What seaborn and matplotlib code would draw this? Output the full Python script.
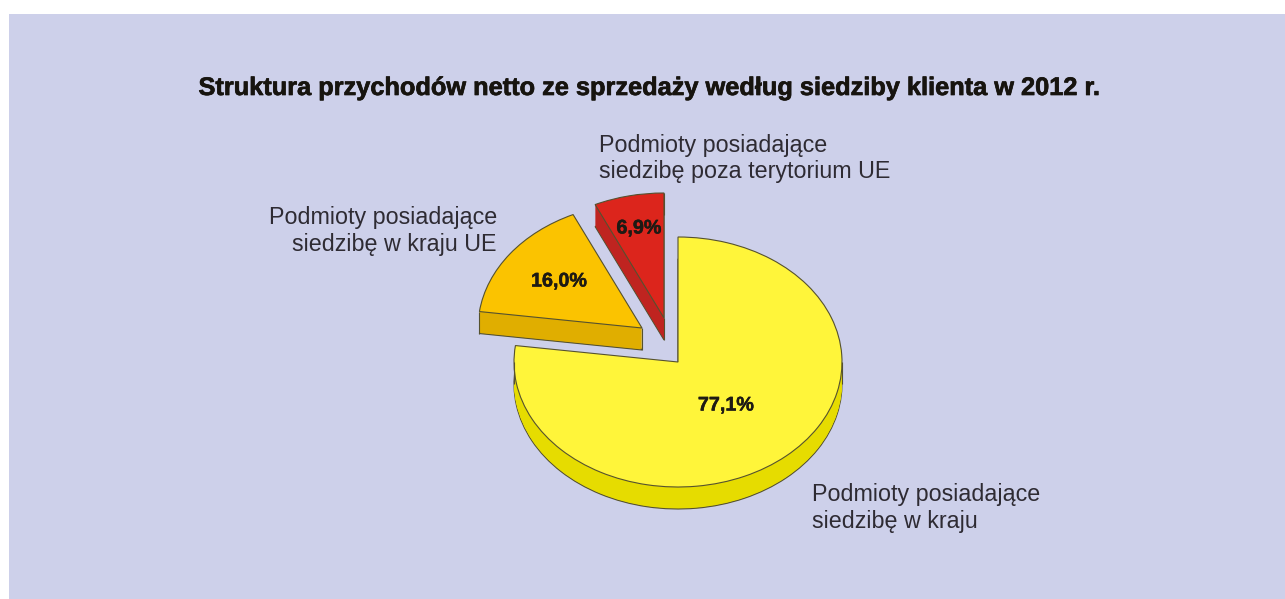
import math

import matplotlib
matplotlib.use("Agg")
import matplotlib.pyplot as plt
import matplotlib.patheffects as pe
from matplotlib.patches import Rectangle
import seaborn as sns

W, H = 1285, 599

title = "Struktura przychodów netto ze sprzedaży według siedziby klienta w 2012 r."
shares = [77.1, 16.0, 6.9]
top_colors = ["#FFF53A", "#FBC300", "#DC251C"]
side_colors = ["#E6DC00", "#E0AE00", "#BF2420"]
labels = [
    "Podmioty posiadające\nsiedzibę w kraju",
    "Podmioty posiadające\nsiedzibę w kraju UE",
    "Podmioty posiadające\nsiedzibę poza terytorium UE",
]

# pie geometry in pixels of the picture
CX, CY = 678, 362
RX, RY = 164, 125
DEPTH = 22
apex_px = [(678, 362), (642, 328), (664, 318)]
EDGE = "#55512f"

sns.set_theme(style="white")
plt.rcParams["font.family"] = ["Liberation Sans", "DejaVu Sans"]

fig = plt.figure(figsize=(W / 100, H / 100), dpi=100, facecolor="white")
fig.add_artist(
    Rectangle((9 / W, 0), 1 - 9 / W, 1 - 14 / H, transform=fig.transFigure, color="#CDD0EA", lw=0, zorder=-1)
)

ax = fig.add_axes([0, 0, 1, 1])
ax.patch.set_visible(False)


def to_data(x, y):
    return (x - CX) / RX, (CY - y) / RY


def draw_pie(dy, colors, edge):
    # one full pie, each wedge moved to its own exploded position
    wedges, _ = ax.pie(
        shares,
        startangle=90,
        counterclock=False,
        colors=colors,
        wedgeprops={"edgecolor": edge, "linewidth": 0.8 if edge != "none" else 0},
    )
    for wedge, (ax_x, ax_y) in zip(wedges, apex_px):
        wedge.set_center(to_data(ax_x, ax_y + dy))
    return wedges


# side wall: bottom outline, then filled layers up to the top face
draw_pie(DEPTH, side_colors, EDGE)
for dy in range(DEPTH - 1, 0, -1):
    draw_pie(dy, side_colors, "none")
wedges = draw_pie(0, top_colors, EDGE)

# vertical edges of the side walls
drop = DEPTH / RY
ax.vlines([-1, 1], [-drop, -drop], [0, 0], color=EDGE, lw=0.8)
for wedge, angle in zip(wedges[1:], [wedges[1].theta2, wedges[2].theta1]):
    x0, y0 = wedge.center
    ax.vlines(x0, y0 - drop, y0, color=EDGE, lw=0.8)
    x1 = x0 + math.cos(math.radians(angle))
    y1 = y0 + math.sin(math.radians(angle))
    ax.vlines(x1, y1 - drop, y1, color=EDGE, lw=0.8)

ax.set_aspect("auto")
ax.set_xlim(-CX / RX, (W - CX) / RX)
ax.set_ylim((CY - H) / RY, CY / RY)
ax.axis("off")


def put(x, y, s, **kw):
    return fig.text(x / W, 1 - y / H, s, **kw)


heavy = [pe.withStroke(linewidth=0.5, foreground="#17140f")]
heavy_pct = [pe.withStroke(linewidth=0.35, foreground="#1d1a14")]

put(649, 88, title, ha="center", va="center", fontsize=18.25, fontweight="bold", color="#17140f", path_effects=heavy)

for (x, y), share in zip([(726, 405), (559, 281), (639, 228)], shares):
    put(x, y, f"{share:.1f}%".replace(".", ","), ha="center", va="center", fontsize=14.2, fontweight="bold",
        color="#1d1a14", path_effects=heavy_pct)

text_style = {"fontsize": 16.75, "color": "#2e2b33", "va": "center", "linespacing": 1.2}
put(812, 508, labels[0], ha="left", **text_style)
put(497, 231, labels[1], ha="right", multialignment="right", **text_style)
put(599, 158.5, labels[2], ha="left", **text_style)

fig.savefig("out.png", dpi=100)
